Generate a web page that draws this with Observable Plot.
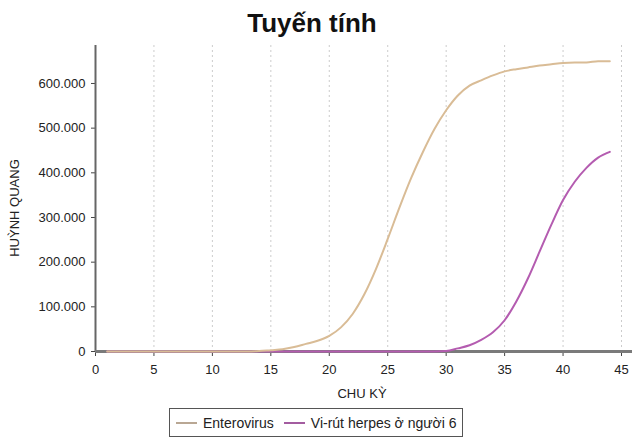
<!DOCTYPE html>
<html>
<head>
<meta charset="utf-8">
<script src="https://cdn.jsdelivr.net/npm/d3@7"></script>
<script src="https://cdn.jsdelivr.net/npm/@observablehq/plot@0.6"></script>
<style>
  html, body { margin: 0; padding: 0; background: #fff; }
  body { width: 632px; height: 438px; position: relative; overflow: hidden; font-family: "Liberation Sans", Arial, sans-serif; color: #222; }
  #title { position: absolute; left: 0; top: 10px; width: 624px; text-align: center; font-weight: bold; font-size: 26px; line-height: 26px; color: #111; }
  #chart { position: absolute; left: 0; top: 40px; }
  #ylabel { position: absolute; left: 15px; top: 208px; width: 200px; margin-left: -100px; margin-top: -8px; height: 16px; line-height: 16px; text-align: center; font-size: 13px; transform: rotate(-90deg); }
  #xlabel { position: absolute; left: 262px; top: 386px; width: 200px; text-align: center; font-size: 13px; line-height: 16px; }
  #legend { position: absolute; left: 169px; top: 408px; width: 292px; height: 27px; border: 1.5px solid #555; box-sizing: content-box; display: flex; align-items: center; font-size: 14px; }
  .sw { display: inline-block; width: 21px; height: 2px; margin: 0 6px 0 6px; }
  .item { display: flex; align-items: center; margin-right: 4px; }
</style>
</head>
<body>
<div id="title">Tuyến tính</div>
<div id="chart"></div>
<div id="ylabel">HUỲNH QUANG</div>
<div id="xlabel">CHU KỲ</div>
<div id="legend"></div>
<script>
// ---- data ----
const cycles = [1,2,3,4,5,6,7,8,9,10,11,12,13,14,15,16,17,18,19,20,21,22,23,24,25,26,27,28,29,30,31,32,33,34,35,36,37,38,39,40,41,42,43,44];
const enterovirus = [0,0,0,0,0,0,0,0,0,0,0,0,0,1000,3000,5000,10000,17000,24000,35000,54000,84000,128000,185000,252000,322000,388000,446000,498000,540000,573000,595000,607000,618000,627000,632000,636000,640000,643000,646000,647000,647000,650000,650000];
const herpes = [0,0,0,0,0,0,0,0,0,0,0,0,0,0,0,0,0,0,0,0,0,0,0,0,0,0,0,0,0,1000,7000,14000,26000,43000,70000,112000,164000,224000,284000,339000,380000,411000,434000,447000];
const seriesNames = ["Enterovirus", "Vi-rút herpes ở người 6"];
const xTicks = [0,5,10,15,20,25,30,35,40,45];
const yTicks = [0,100000,200000,300000,400000,500000,600000];
const gridX = [5,10,15,20,25,30,35,40,45];

const lineColors = ["#d9bc96", "#b45cb0"];
const swatchColors = ["#b9a794", "#a35ca0"];

const entTable = cycles.map((c, i) => ({cycle: c, value: enterovirus[i]}));
const herTable = cycles.map((c, i) => ({cycle: c, value: herpes[i]}));

const fmt = d3.formatLocale({decimal: ",", thousands: ".", grouping: [3], currency: ["", ""]}).format(",d");

const chart = Plot.plot({
  width: 632,
  height: 360,
  marginLeft: 95,
  marginRight: 11,
  marginTop: 5,
  marginBottom: 49,
  style: {fontFamily: "'Liberation Sans', Arial, sans-serif", fontSize: "13px", color: "#222", background: "transparent", overflow: "visible"},
  x: {domain: [0, 45], label: null},
  y: {domain: [0, 685000], label: null},
  marks: [
    Plot.ruleX(gridX, {stroke: "#cccccc", strokeDasharray: "2,3", strokeWidth: 1}),
    Plot.axisX({ticks: xTicks, tickSize: 5, tickPadding: 8, label: null, stroke: "#444"}),
    Plot.axisY({ticks: yTicks, tickSize: 4, tickPadding: 6, tickFormat: fmt, label: null, stroke: "#444"}),
    Plot.ruleX([0], {y1: 0, y2: 685000, stroke: "#666", strokeWidth: 2}),
    Plot.ruleY([0], {x1: 0, x2: 45.95, stroke: "#7a7a7a", strokeWidth: 3}),
    Plot.line(herTable, {x: "cycle", y: "value", stroke: lineColors[1], strokeWidth: 2, curve: "monotone-x"}),
    Plot.line(entTable, {x: "cycle", y: "value", stroke: lineColors[0], strokeWidth: 2, curve: "monotone-x"})
  ]
});
document.getElementById("chart").appendChild(chart);

const legend = document.getElementById("legend");
seriesNames.forEach((name, i) => {
  const item = document.createElement("span");
  item.className = "item";
  const sw = document.createElement("span");
  sw.className = "sw";
  sw.style.background = swatchColors[i];
  const t = document.createElement("span");
  t.textContent = name;
  item.appendChild(sw);
  item.appendChild(t);
  legend.appendChild(item);
});
</script>
</body>
</html>
